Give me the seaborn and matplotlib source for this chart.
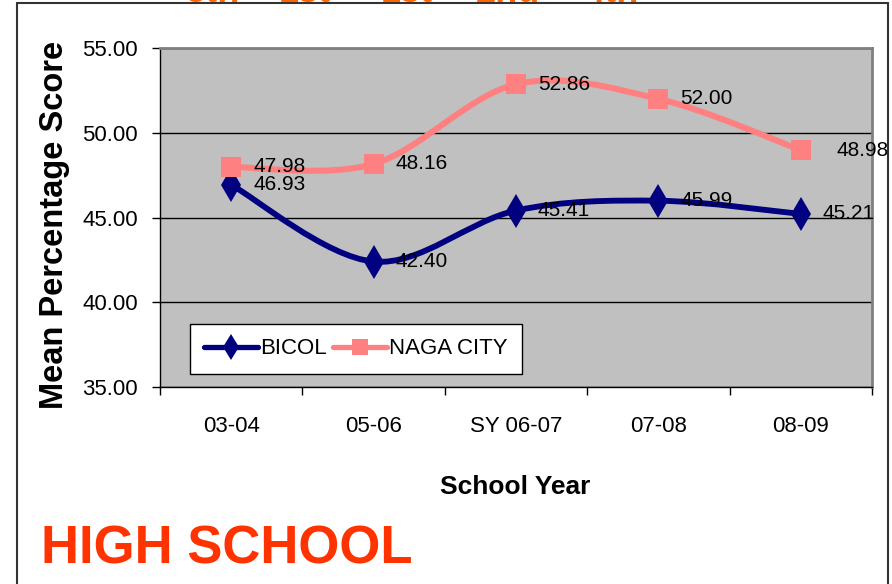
import numpy as np
import pandas as pd
import matplotlib
matplotlib.use("Agg")
import matplotlib.pyplot as plt
import seaborn as sns
from matplotlib.path import Path
from matplotlib.patches import PathPatch
from matplotlib.lines import Line2D

# ---------------- data ----------------
years = ["03-04", "05-06", "SY 06-07", "07-08", "08-09"]
bicol = [46.93, 42.40, 45.41, 45.99, 45.21]
naga = [47.98, 48.16, 52.86, 52.00, 48.98]
series_names = ["BICOL", "NAGA CITY"]
yticks = [35, 40, 45, 50, 55]
top_ranks = ["5th", "1st", "1st", "2nd", "4th"]

# ---------------- style ----------------
sns.set_theme(style="white")
plt.rcParams["font.family"] = ["Liberation Sans", "DejaVu Sans"]
plt.rcParams["text.color"] = "black"

W, H = 892, 584
fig = plt.figure(figsize=(W / 100, H / 100), dpi=100)
fig.patch.set_facecolor("white")
ax = fig.add_axes([160 / W, 1 - 387 / H, 712 / W, 339 / H])
ax.set_facecolor("#C0C0C0")

colors = {"BICOL": "#000080", "NAGA CITY": "#FF8080"}
markers = {"BICOL": "d", "NAGA CITY": "s"}
msizes = {"BICOL": 17, "NAGA CITY": 15}
lwidths = {"BICOL": 4.2, "NAGA CITY": 4.4}

ax.set_xlim(-0.5, len(years) - 0.5)
ax.set_ylim(yticks[0], yticks[-1])


def smooth_path(ax, xs, ys, t=1 / 6):
    pts = ax.transData.transform(np.column_stack([xs, ys]))
    n = len(pts)
    verts = [pts[0]]
    codes = [Path.MOVETO]
    for i in range(n - 1):
        p0 = pts[i - 1] if i > 0 else pts[i]
        p1 = pts[i]
        p2 = pts[i + 1]
        p3 = pts[i + 2] if i + 2 < n else pts[i + 1]
        c1 = p1 + (p2 - p0) * t
        c2 = p2 - (p3 - p1) * t
        verts += [c1, c2, p2]
        codes += [Path.CURVE4] * 3
    verts = ax.transData.inverted().transform(np.array(verts))
    return Path(verts, codes)


xpos = np.arange(len(years))
label_dx = {"BICOL": [22, 22, 22, 22, 22], "NAGA CITY": [22, 22, 22, 22, 36]}
for name, vals in zip(series_names, [bicol, naga]):
    path = smooth_path(ax, xpos, vals)
    ax.add_patch(PathPatch(path, facecolor="none", edgecolor=colors[name],
                           lw=lwidths[name], capstyle="round", joinstyle="round", zorder=3))
    df = pd.DataFrame({"x": xpos, "y": vals})
    sns.lineplot(data=df, x="x", y="y", ax=ax, color=colors[name], lw=0,
                 marker=markers[name], markersize=msizes[name], markeredgewidth=0,
                 zorder=4, legend=False)
    for i, v in enumerate(vals):
        ax.annotate(f"{v:.2f}", (xpos[i], v), xytext=(label_dx[name][i], 0),
                    textcoords="offset pixels", ha="left", va="center",
                    fontsize=15, color="black", zorder=5, annotation_clip=False)

ax.set_xlim(-0.5, len(years) - 0.5)
ax.set_ylim(yticks[0], yticks[-1])

# axes, ticks, grid
ax.set_xticks(xpos)
ax.set_xticklabels(years, fontsize=16)
ax.set_xticks(np.arange(-0.5, len(years), 1), minor=True)
ax.tick_params(axis="x", which="major", length=0, pad=21, labelcolor="black")
ax.tick_params(axis="x", which="minor", length=6, width=1, color="black", direction="out", bottom=True)
ax.set_yticks(yticks)
ax.set_yticklabels([f"{v:.2f}" for v in yticks], fontsize=16)
ax.tick_params(axis="y", length=6, width=1, color="black", direction="out", pad=10, left=True,
               labelcolor="black")
ax.yaxis.grid(True, color="black", lw=1)
ax.xaxis.grid(False)
ax.set_axisbelow(True)
ax.set_xlabel("")
ax.set_ylabel("")
for s in ["left", "bottom"]:
    ax.spines[s].set_color("black")
    ax.spines[s].set_linewidth(1)
for s in ["top", "right"]:
    ax.spines[s].set_color("#808080")
    ax.spines[s].set_linewidth(2)

# axis titles
fig.text(55 / W, 1 - 225 / H, "Mean Percentage Score", rotation=90, ha="center", va="center",
         fontsize=23.5, fontweight="bold", color="black")
fig.text(515 / W, 1 - 487 / H, "School Year", ha="center", va="center",
         fontsize=19, fontweight="bold", color="black")

# legend
handles = [Line2D([], [], color=colors[n], lw=3.8, marker=markers[n],
                  markersize=(13 if n == "BICOL" else 12), markeredgewidth=0) for n in series_names]
leg = fig.legend(handles, series_names, loc="upper left",
                 bbox_to_anchor=(190 / W, 1 - 324 / H), bbox_transform=fig.transFigure,
                 ncol=2, fontsize=16, frameon=True, fancybox=False, borderaxespad=0,
                 handlelength=2.4, handletextpad=0.1, columnspacing=0.3, borderpad=0.65,
                 labelcolor="black", framealpha=1)
leg.get_frame().set_edgecolor("black")
leg.get_frame().set_linewidth(1)
leg.get_frame().set_facecolor("white")

# slide frame
frame_kw = dict(color="#333333", lw=1.5, transform=fig.transFigure)
fig.add_artist(Line2D([17 / W, 17 / W], [0, 1 - 3 / H], **frame_kw))
fig.add_artist(Line2D([17 / W, 888 / W], [1 - 3 / H, 1 - 3 / H], **frame_kw))
fig.add_artist(Line2D([888 / W, 888 / W], [0, 1 - 3 / H], **frame_kw))

# slide texts
fig.text(41 / W, 1 - 564 / H, "HIGH SCHOOL", ha="left", va="baseline",
         fontsize=38, fontweight="bold", color="#FF3300")
for xc, t in zip([213, 305, 407, 508, 612], top_ranks):
    fig.text(xc / W, 1 - 1.5 / H, t, ha="center", va="baseline", fontsize=26,
             fontweight="bold", color="#FF6600", zorder=5)

fig.savefig("out.png", dpi=100, facecolor="white")
